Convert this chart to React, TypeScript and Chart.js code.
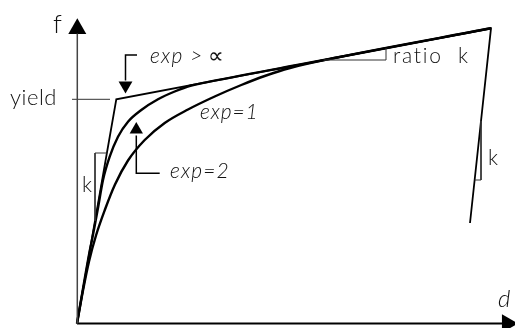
import React, { useEffect, useRef } from "react";
import { Chart, registerables } from "chart.js";

Chart.register(...registerables);

// Backbone: elastic branch, yield point, hardening branch, unloading branch
const backboneD = [0, 39.3, 414, 393];
const backboneF = [0, 224.2, 295.2, 100.5];

// Smooth transition curve, exp = 2
const exp2D = [0, 12.9, 15, 21, 26, 32.7, 41, 51, 64.3, 81, 97.7, 114.3, 128, 223, 414];
const exp2F = [0, 73.5, 83.5, 115.5, 143.5, 166.8, 186.8, 201.8, 213.5, 224.2, 232, 238, 240.9, 259, 295.2];

// Smooth transition curve, exp = 1
const exp1D = [0, 6, 12, 19, 28, 38, 51, 67.7, 87.7, 111, 137.7, 164.3, 187.7, 213, 260, 414];
const exp1F = [0, 33, 62, 88, 114, 139, 163, 183.5, 200.5, 214, 227, 238.5, 247.5, 255.5, 266, 295.2];

// Slope markers and guide lines
const yieldGuideD = [-5, 33];
const yieldGuideF = [224.2, 224.2];
const kLeftD = [29.9, 18, 18];
const kLeftF = [170.5, 170.5, 102.7];
const kRightD = [404, 404, 397.6];
const kRightF = [202.5, 143.5, 143.5];
const ratioD = [246.7, 309, 309];
const ratioF = [263.5, 263.5, 275.3];

// Axes
const yAxisD = [0.3, 0.3];
const yAxisF = [0, 290];
const xAxisD = [0, 428];
const xAxisF = [0, 0];

// Callout leaders
const leaderInfD = [60, 48.5, 48.5];
const leaderInfF = [268.5, 268.5, 243];
const leader2D = [59.3, 59.3, 82.7];
const leader2F = [188, 150.2, 150.2];

// Arrow heads: position, rotation, size
const headD = [0.3, 430.3, 48.5, 59.3];
const headF = [294.8, 0, 238, 193.8];
const headRot = [0, 90, 180, 0];
const headSize = [10.4, 10.7, 8, 7.7];

// Text labels
const labelText = ["f", "d", "yield", "exp >", "∝", "exp=1", "exp=2", "ratio", "k", "k", "k"];
const labelD = [-24, 421, -67, 73, 131, 123, 93, 316, 381, 5, 411];
const labelF = [290.5, 16.5, 218.5, 260.5, 260.5, 204.5, 145.5, 260.5, 260.5, 131.5, 158.5];
const labelSize = [26, 24, 22, 21, 22, 21, 21, 21, 21, 21, 21];
const labelItalic = [false, true, false, true, false, true, true, false, false, false, false];
const labelSpacing = [0, 0, 0.5, 1.2, 0, 0.9, 1.1, 1.8, 0, 0, 0];
const labelFamily = ["Lato", "Lato", "Lato", "Lato", "Inter", "Lato", "Lato", "Lato", "Lato", "Lato", "Lato"];
const labelWeight = [300, 300, 300, 300, 200, 300, 300, 300, 300, 300, 300];

const pts = (d: number[], f: number[]) => d.map((x, i) => ({ x, y: f[i] }));

const line = (d: number[], f: number[], width: number, color: string, smooth = false) => ({
  data: pts(d, f),
  showLine: true,
  borderColor: color,
  borderWidth: width,
  pointRadius: 0,
  pointHoverRadius: 0,
  tension: 0,
  cubicInterpolationMode: smooth ? "monotone" : "default",
  borderCapStyle: "butt",
  borderJoinStyle: "miter",
  clip: false,
});

const labelsPlugin = {
  id: "diagramLabels",
  afterDatasetsDraw(chart: any) {
    const { ctx, scales } = chart;
    ctx.save();
    ctx.fillStyle = "#111";
    ctx.textAlign = "left";
    ctx.textBaseline = "alphabetic";
    labelText.forEach((t, i) => {
      ctx.font = `${labelItalic[i] ? "italic " : ""}${labelWeight[i]} ${labelSize[i]}px "${labelFamily[i]}", "Noto Sans", "DejaVu Sans", sans-serif`;
      ctx.letterSpacing = `${labelSpacing[i]}px`;
      ctx.fillText(t, scales.x.getPixelForValue(labelD[i]), scales.y.getPixelForValue(labelF[i]));
    });
    ctx.restore();
  },
};

export default function App() {
  const ref = useRef<HTMLCanvasElement | null>(null);

  useEffect(() => {
    if (!ref.current) return;
    const heads = {
      data: pts(headD, headF),
      showLine: false,
      pointStyle: "triangle",
      pointRadius: headSize,
      pointHoverRadius: headSize,
      rotation: headRot,
      backgroundColor: "#000",
      borderColor: "#000",
      borderWidth: 0,
      clip: false,
    };
    const chart = new Chart(ref.current, {
      type: "scatter",
      data: {
        datasets: [
          line(yAxisD, yAxisF, 1.5, "#444"),
          line(xAxisD, xAxisF, 2, "#000"),
          line(yieldGuideD, yieldGuideF, 1, "#333"),
          line(kLeftD, kLeftF, 1, "#333"),
          line(kRightD, kRightF, 1, "#333"),
          line(ratioD, ratioF, 1, "#333"),
          line(leaderInfD, leaderInfF, 1.5, "#000"),
          line(leader2D, leader2F, 1.5, "#000"),
          line(backboneD, backboneF, 1.8, "#000"),
          line(exp1D, exp1F, 2.4, "#000", true),
          line(exp2D, exp2F, 2.4, "#000", true),
          heads as any,
        ],
      },
      options: {
        animation: false,
        responsive: true,
        maintainAspectRatio: false,
        layout: { padding: 0, autoPadding: false },
        plugins: { legend: { display: false }, tooltip: { enabled: false } },
        events: [],
        scales: {
          x: { type: "linear", display: false, min: -77, max: 438 },
          y: { type: "linear", display: false, min: -4.5, max: 323.5 },
        },
      } as any,
      plugins: [labelsPlugin],
    });
    return () => chart.destroy();
  }, []);

  return (
    <div style={{ position: "fixed", left: 0, top: 0, width: 515, height: 328, background: "#fff" }}>
      <canvas ref={ref} />
    </div>
  );
}
